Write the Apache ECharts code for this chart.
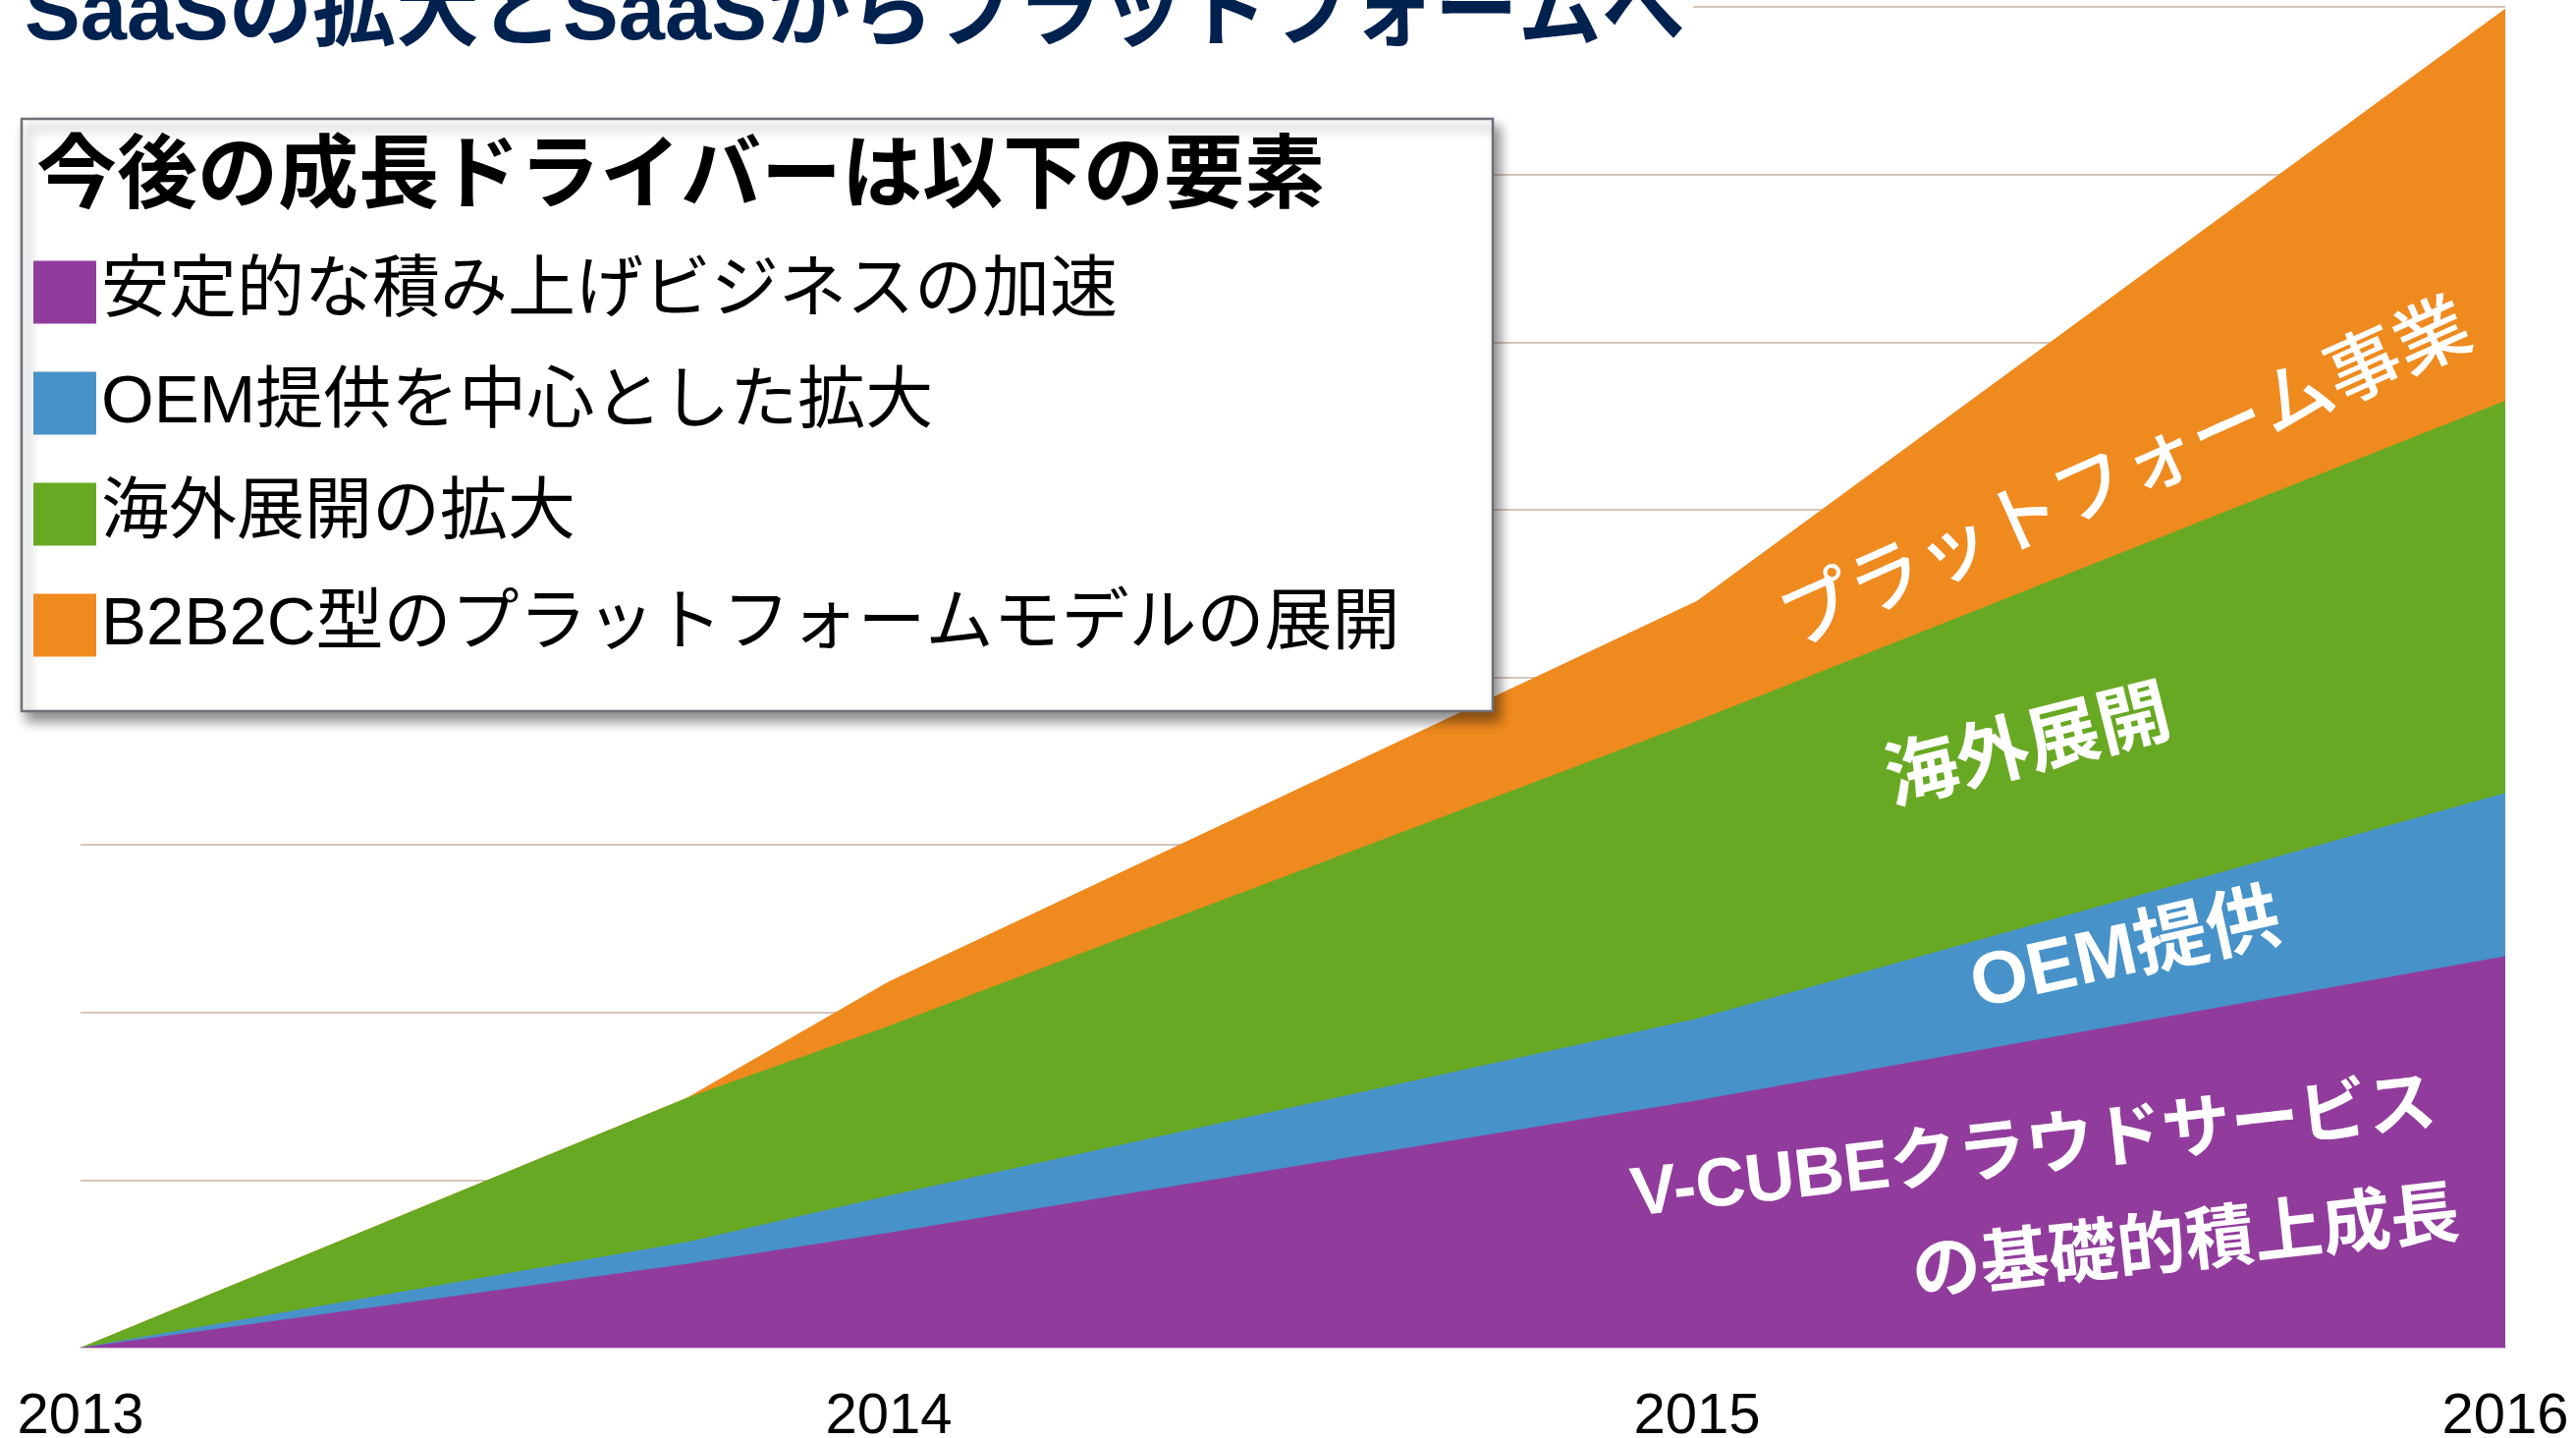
<!DOCTYPE html>
<html>
<head>
<meta charset="utf-8">
<script src="https://cdn.jsdelivr.net/npm/echarts@6/dist/echarts.min.js"></script>
<style>
  html, body { margin: 0; padding: 0; background: #fff; }
  #main { width: 2623px; height: 1464px; }
</style>
</head>
<body>
<div id="main"></div>
<script>
// x positions (years); the platform layer starts growing in late 2013
const years = [2013, 2013.75, 2014, 2015, 2016];
const cloudBase = [0, 0.50, 0.685, 1.475, 2.335];   // V-CUBEクラウドサービス
const oemValues = [0, 0.13, 0.222, 0.488, 0.975];   // OEM提供
const overseasValues = [0, 0.86, 1.013, 1.777, 2.34]; // 海外展開
const platformValues = [0, 0, 0.265, 0.715, 2.34];  // プラットフォーム事業

const seriesNames = [
    '安定的な積み上げビジネスの加速',
    'OEM提供を中心とした拡大',
    '海外展開の拡大',
    'B2B2C型のプラットフォームモデルの展開'
];
const colors = ['#913c9d', '#4792c9', '#68a923', '#ef8a1f'];

const FONT = "'Liberation Sans', 'Noto Sans CJK JP', sans-serif";
const deg = Math.PI / 180;

// running totals, drawn back to front so each band shows as a stack
const layers = [cloudBase, oemValues, overseasValues, platformValues];
let running = years.map(() => 0);
const tops = layers.map(function (vals) {
    running = running.map(function (s, i) { return s + vals[i]; });
    return running.slice();
});

const series = [];
for (let i = layers.length - 1; i >= 0; i--) {
    series.push({
        name: seriesNames[i],
        type: 'line',
        symbol: 'none',
        silent: true,
        itemStyle: { color: colors[i] },
        lineStyle: { width: 0 },
        areaStyle: { color: colors[i], opacity: 1 },
        data: years.map(function (x, j) { return [x, tops[i][j]]; })
    });
}

function bandLabel(text, x, y, angle, size, weight) {
    return {
        type: 'text',
        x: x,
        y: y,
        rotation: angle * deg,
        z: 8,
        style: {
            text: text,
            fill: '#fff',
            font: weight + ' ' + size + 'px ' + FONT,
            align: 'center',
            verticalAlign: 'middle'
        }
    };
}

const option = {
    animation: false,
    backgroundColor: '#fff',
    grid: { left: 82, right: 72, top: 7, bottom: 92, outerBoundsMode: 'none' },
    xAxis: {
        type: 'value',
        min: 2013,
        max: 2016,
        interval: 1,
        splitLine: { show: false },
        axisTick: { show: false },
        axisLine: { show: true, lineStyle: { color: '#d6c6d6', width: 2 } },
        axisLabel: {
            margin: 42,
            fontSize: 58,
            color: '#000',
            fontFamily: FONT,
            formatter: function (v) { return String(v); }
        }
    },
    yAxis: {
        type: 'value',
        min: 0,
        max: 8,
        interval: 1,
        axisLabel: { show: false },
        axisLine: { show: false },
        axisTick: { show: false },
        splitLine: { lineStyle: { color: '#c8b2a4', width: 1.5 } }
    },
    legend: {
        left: 34,
        top: 263,
        orient: 'vertical',
        padding: 0,
        itemWidth: 64,
        itemHeight: 64,
        itemGap: 44,
        icon: 'rect',
        selectedMode: false,
        z: 12,
        itemStyle: { borderWidth: 0 },
        textStyle: { fontSize: 69, lineHeight: 64, color: '#000', fontFamily: FONT },
        data: seriesNames.map(function (n, i) {
            return { name: n, itemStyle: { color: colors[i] } };
        })
    },
    graphic: [
        // title, partly cut off by the top edge
        { type: 'rect', shape: { x: 0, y: 0, width: 1724, height: 60 }, style: { fill: '#fff' }, z: 5 },
        {
            type: 'text', x: 25, y: 17, z: 6,
            style: {
                text: 'SaaSの拡大とSaaSからプラットフォームへ',
                fill: '#01214f',
                font: 'bold 85px ' + FONT,
                verticalAlign: 'middle'
            }
        },
        // legend box
        {
            type: 'rect', z: 10,
            shape: { x: 22, y: 121, width: 1498, height: 603 },
            style: {
                fill: '#fff', stroke: '#6b7177', lineWidth: 2.5,
                shadowBlur: 12, shadowOffsetX: 6, shadowOffsetY: 9,
                shadowColor: 'rgba(0,0,0,0.45)'
            }
        },
        {
            type: 'text', x: 37, y: 182, z: 11,
            style: {
                text: '今後の成長ドライバーは以下の要素',
                fill: '#000',
                font: 'bold 82px ' + FONT,
                verticalAlign: 'middle'
            }
        },
        bandLabel('プラットフォーム事業', 2166, 486, 24, 76, '500'),
        bandLabel('海外展開', 2066, 763, 14, 74, 'bold'),
        bandLabel('OEM提供', 2165, 971, 12.5, 75, 'bold'),
        bandLabel('V-CUBEクラウドサービス', 2071, 1172, 6.5, 70, 'bold'),
        bandLabel('の基礎的積上成長', 2226, 1269, 6.3, 70, 'bold')
    ],
    series: series
};

const chart = echarts.init(document.getElementById('main'));
chart.setOption(option);
</script>
</body>
</html>
